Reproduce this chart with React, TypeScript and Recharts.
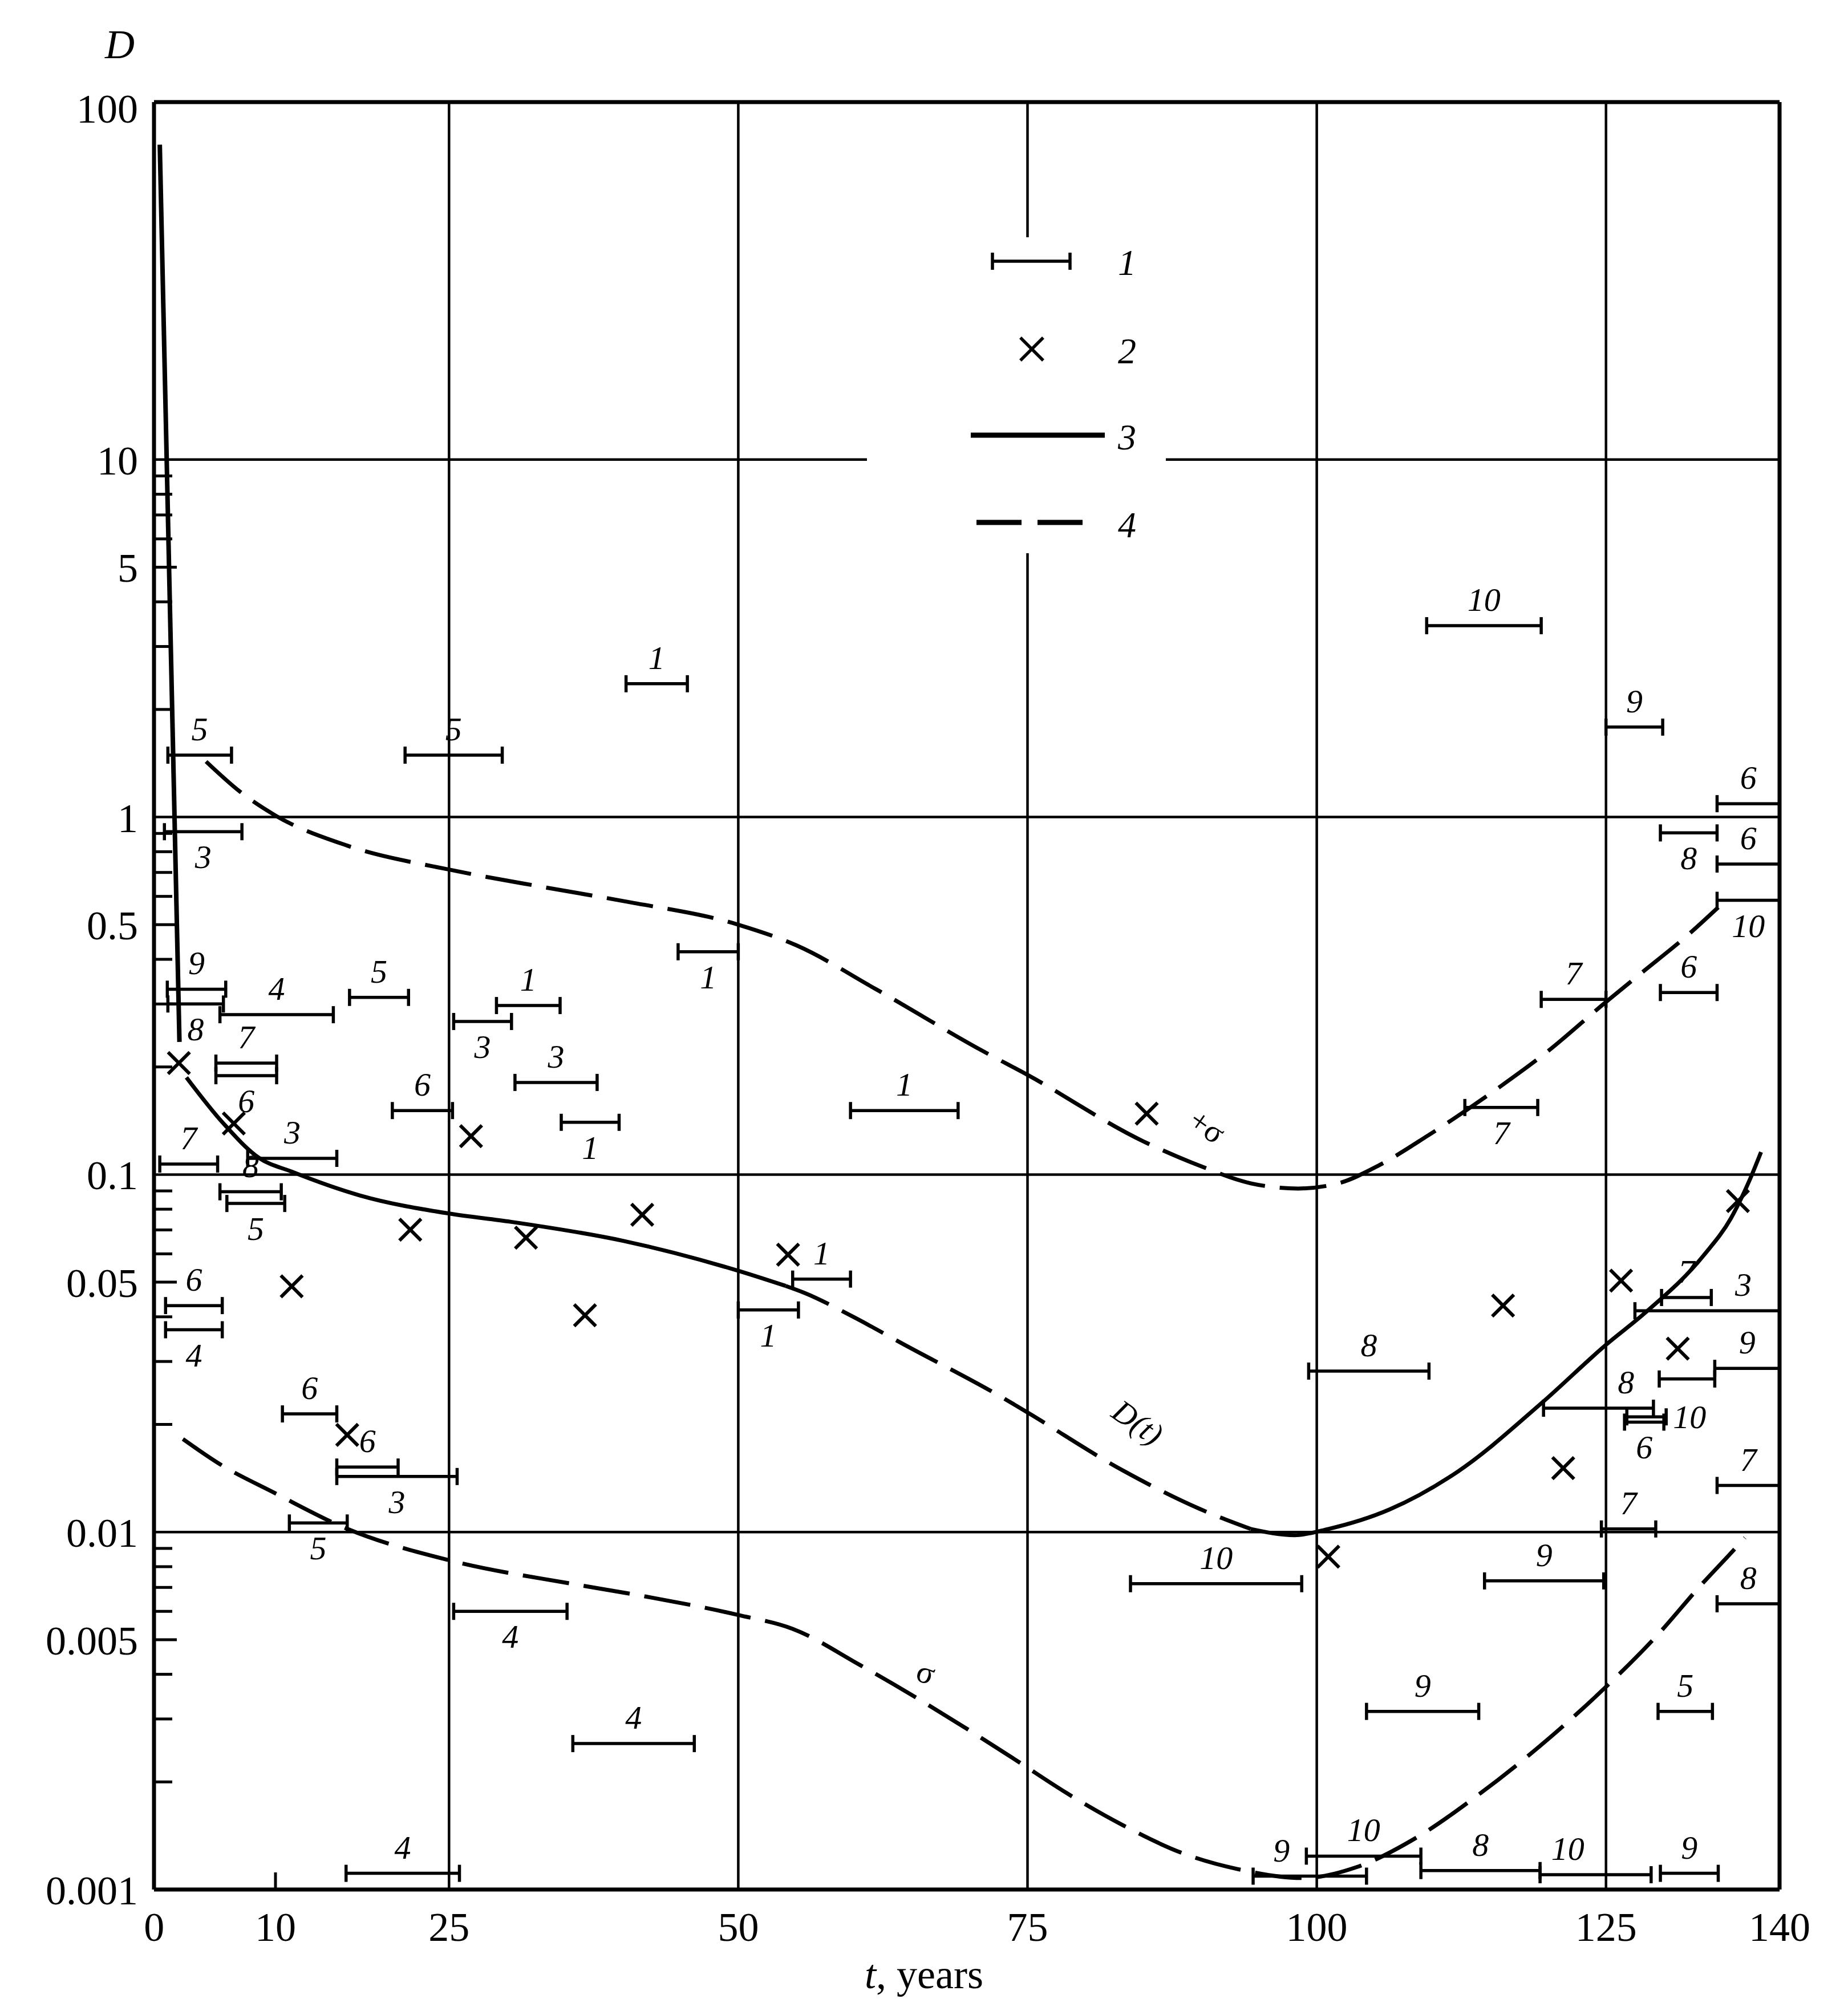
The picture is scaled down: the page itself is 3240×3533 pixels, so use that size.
import React from "react";
import { ComposedChart, Line, Scatter, ErrorBar, XAxis, YAxis, ReferenceLine } from "recharts";

const W = 3240;
const H = 3533;
const FONT = '"Liberation Serif", "DejaVu Serif", serif';

// t axis, years
const xTicks = [0, 10, 25, 50, 75, 100, 125, 140];
const xGrid = [25, 50, 75, 100, 125];

// D axis, log
const yTicks = [
  0.001, 0.002, 0.003, 0.004, 0.005, 0.006, 0.007, 0.008, 0.009,
  0.01, 0.02, 0.03, 0.04, 0.05, 0.06, 0.07, 0.08, 0.09,
  0.1, 0.2, 0.3, 0.4, 0.5, 0.6, 0.7, 0.8, 0.9,
  1, 2, 3, 4, 5, 6, 7, 8, 9,
  10, 100,
];
const yLabels = [100, 10, 5, 1, 0.5, 0.1, 0.05, 0.01, 0.005, 0.001];
const yGrid = [10, 1, 0.1, 0.01];

// 1: intervals [t from, t to, D, label, label side]
type Iv = [number, number, number, string, string];
const intervals: Iv[] = [
  [0.7, 6.2, 1.49, "5", "a"],
  [21.2, 29.6, 1.49, "5", "a"],
  [40.3, 45.6, 2.36, "1", "a"],
  [0.4, 7.1, 0.91, "3", "b"],
  [0.65, 5.7, 0.33, "9", "a"],
  [0.7, 5.5, 0.3, "8", "b"],
  [5.2, 15.0, 0.28, "4", "a"],
  [16.4, 21.5, 0.313, "5", "a"],
  [29.1, 34.6, 0.297, "1", "a"],
  [25.4, 30.4, 0.268, "3", "b"],
  [30.7, 37.8, 0.181, "3", "a"],
  [4.85, 10.1, 0.205, "7", "a"],
  [4.85, 10.1, 0.189, "6", "b"],
  [20.1, 25.3, 0.151, "6", "a"],
  [34.7, 39.7, 0.14, "1", "b"],
  [0, 5.0, 0.107, "7", "a"],
  [7.6, 15.3, 0.111, "3", "a"],
  [5.2, 10.5, 0.0895, "8", "a"],
  [5.8, 10.8, 0.083, "5", "b"],
  [0.5, 5.4, 0.043, "6", "a"],
  [0.5, 5.4, 0.0368, "4", "b"],
  [10.6, 15.3, 0.0214, "6", "a"],
  [15.3, 20.6, 0.0152, "6", "a"],
  [15.3, 25.7, 0.0143, "3", "b"],
  [11.2, 16.2, 0.0106, "5", "b"],
  [25.4, 35.2, 0.006, "4", "b"],
  [35.7, 46.2, 0.00256, "4", "a"],
  [16.1, 25.9, 0.00111, "4", "a"],
  [44.8, 50.0, 0.42, "1", "b"],
  [59.7, 69.0, 0.151, "1", "a"],
  [54.7, 59.7, 0.051, "1", "a"],
  [50.0, 55.2, 0.0418, "1", "b"],
  [83.9, 98.7, 0.00717, "10", "a"],
  [109.5, 119.4, 3.43, "10", "a"],
  [125.0, 129.9, 1.785, "9", "a"],
  [134.6, 140, 1.09, "6", "a"],
  [129.7, 134.6, 0.903, "8", "b"],
  [134.6, 140, 0.739, "6", "a"],
  [134.6, 140, 0.585, "10", "b"],
  [119.4, 125.0, 0.309, "7", "a"],
  [129.7, 134.6, 0.323, "6", "a"],
  [112.8, 119.1, 0.154, "7", "b"],
  [129.8, 134.1, 0.0453, "7", "a"],
  [127.5, 140, 0.0416, "3", "ar"],
  [134.4, 140, 0.0287, "9", "a"],
  [129.6, 134.4, 0.0268, "", ""],
  [99.3, 109.7, 0.0282, "8", "a"],
  [119.6, 129.1, 0.0222, "8", "ar"],
  [126.6, 130.0, 0.0203, "6", "b"],
  [126.8, 130.2, 0.021, "10", "r"],
  [134.6, 140, 0.0135, "7", "a"],
  [124.6, 129.3, 0.0102, "7", "a"],
  [114.5, 124.8, 0.0073, "9", "a"],
  [134.6, 140, 0.0063, "8", "a"],
  [104.3, 114.0, 0.00315, "9", "a"],
  [129.5, 134.2, 0.00315, "5", "a"],
  [94.5, 104.3, 0.00109, "9", "al"],
  [99.1, 109.0, 0.00124, "10", "a"],
  [109.0, 119.3, 0.00113, "8", "a"],
  [119.3, 128.9, 0.0011, "10", "al"],
  [129.7, 134.7, 0.00111, "9", "a"],
];

// 2: point estimates [t, D]
const crosses: [number, number][] = [
  [1.65, 0.205], [6.4, 0.139], [26.9, 0.128], [21.65, 0.0701], [31.65, 0.0666],
  [11.4, 0.0487], [36.75, 0.0404], [16.2, 0.0187],
  [85.3, 0.148], [41.7, 0.0772], [54.3, 0.0597],
  [136.4, 0.0843], [126.3, 0.0505], [116.1, 0.043], [131.2, 0.0326], [121.3, 0.0151], [101.0, 0.00853],
];

// 3/4: D(t), solid where fitted, dashed between
const dSpike: [number, number][] = [[0, 76], [1.7, 0.235]];
const dEarly: [number, number][] = [
  [2.3, 0.187], [5.5, 0.139], [8.6, 0.1112], [11.4, 0.1019], [17.3, 0.0874],
  [25, 0.0778], [30.3, 0.0738], [40.1, 0.0652], [50, 0.0538], [54.1, 0.0488],
];
const dMiddle: [number, number][] = [
  [54.1, 0.0488], [55.7, 0.0467], [59.8, 0.0402], [64.3, 0.0335], [73.3, 0.0233],
  [75, 0.0216], [83.3, 0.01483], [89.9, 0.0116], [94.3, 0.0102],
];
const dLate: [number, number][] = [
  [94.3, 0.0102], [98.1, 0.0098], [101, 0.0102], [106.3, 0.01157], [112.2, 0.01477],
  [119.4, 0.0229], [125, 0.0334], [128.4, 0.0411], [133.4, 0.0592], [135.8, 0.0755],
  [137.4, 0.0963], [138.4, 0.1156],
];
const plusSigma: [number, number][] = [
  [4.0, 1.43], [6.9, 1.18], [10.0, 1.01], [16.2, 0.832], [25, 0.713], [33.4, 0.635],
  [40.2, 0.581], [50, 0.5], [55, 0.438], [61.9, 0.33], [71.2, 0.221], [75, 0.19],
  [85, 0.1239], [89.8, 0.1061], [94.3, 0.0945], [98.4, 0.0914], [102, 0.0948],
  [105.3, 0.1058], [109.6, 0.1285], [115.8, 0.1757], [119.8, 0.219], [125, 0.304],
  [128, 0.365], [132.2, 0.4716], [134.7, 0.559],
];
const sigma: [number, number][] = [
  [2.0, 0.0182], [5.2, 0.01548], [9.85, 0.0129], [16.2, 0.01021], [25, 0.00834],
  [36, 0.00713], [42, 0.0066], [50, 0.00586], [54.7, 0.00536], [60.5, 0.00425],
  [65, 0.0035], [69.5, 0.00285], [74.1, 0.00229], [78.4, 0.00186], [83.3, 0.00151],
  [88.5, 0.00126], [93.2, 0.00114], [98.8, 0.001077], [103.4, 0.001154],
  [108.5, 0.00139], [114, 0.001844], [121.1, 0.00283], [125, 0.00369],
  [129.3, 0.00509], [133.2, 0.0071], [136, 0.00888], [137, 0.00964],
];

// curve names [text, t, D, angle, italic]
const captions: [string, number, number, number, boolean][] = [
  ["+σ", 90.5, 0.136, 35, false],
  ["D(t)", 84.5, 0.0202, 35, true],
  ["σ", 66.2, 0.00404, 20, false],
];

const pts = (a: [number, number][]) => a.map(([t, d]) => ({ t, d }));

const barData = intervals.map(([t1, t2, d]) => ({ t: (t1 + t2) / 2, d, e: (t2 - t1) / 2 }));
const labelData = intervals
  .filter((r) => r[3] !== "")
  .map(([t1, t2, d, label, side]) => {
    let t = (t1 + t2) / 2;
    if (side === "al") t = t1 + (t2 - t1) * 0.25;
    if (side === "ar") t = t1 + (t2 - t1) * 0.75;
    if (side === "r") t = t2;
    return { t, d, label, side };
  });
const crossData = pts(crosses);
const captionData = captions.map(([text, t, d, rot, it]) => ({ t, d, text, rot, it }));

function YTick(props: any) {
  const { x, y, payload } = props;
  const v = payload.value;
  const lab = yLabels.find((l) => Math.abs(v - l) / l < 1e-6);
  const lg = Math.log10(v);
  const decade = Math.abs(lg - Math.round(lg)) < 1e-6;
  const len = decade ? 0 : lab !== undefined ? 40 : 32;
  return (
    <g>
      {len > 0 && <line x1={x} x2={x + len} y1={y} y2={y} stroke="#000" strokeWidth={5} />}
      {lab !== undefined && (
        <text x={x - 28} y={y + (v === 100 ? 36 : 26)} textAnchor="end" fontFamily={FONT} fontSize={72} fill="#000">
          {String(lab)}
        </text>
      )}
    </g>
  );
}

function XTick(props: any) {
  const { x, y, payload } = props;
  const v = payload.value;
  return (
    <g>
      {v === 10 && <line x1={x} x2={x} y1={y} y2={y - 30} stroke="#000" strokeWidth={5} />}
      <text x={v === 0 ? x - 10 : x} y={y + 90} textAnchor="middle" fontFamily={FONT} fontSize={72} fill="#000">
        {v}
      </text>
    </g>
  );
}

function Cross(props: any) {
  const { cx, cy } = props;
  const r = 19;
  return (
    <g stroke="#000" strokeWidth={6}>
      <line x1={cx - r} y1={cy - r} x2={cx + r} y2={cy + r} />
      <line x1={cx - r} y1={cy + r} x2={cx + r} y2={cy - r} />
    </g>
  );
}

function BarLabel(props: any) {
  const { cx, cy, payload } = props;
  const s: string = payload.side;
  let dx = 0;
  let dy = -26;
  let anchor = "middle";
  if (s[0] === "b") dy = 64;
  if (s === "r") {
    dx = 12;
    dy = 20;
    anchor = "start";
  }
  return (
    <text x={cx + dx} y={cy + dy} textAnchor={anchor} fontFamily={FONT} fontStyle="italic" fontSize={58} fill="#000">
      {payload.label}
    </text>
  );
}

function Caption(props: any) {
  const { cx, cy, payload } = props;
  return (
    <text
      x={cx}
      y={cy + 18}
      textAnchor="middle"
      fontFamily={FONT}
      fontStyle={payload.it ? "italic" : "normal"}
      fontSize={56}
      fill="#000"
      transform={`rotate(${payload.rot} ${cx} ${cy})`}
    >
      {payload.text}
    </text>
  );
}

const none = () => <g />;
const dash = "82 26";

export default function App() {
  return (
    <div style={{ position: "absolute", left: 0, top: 0, width: W, height: H, background: "#fff" }}>
      <ComposedChart width={W} height={H} margin={{ top: 179, right: 120, bottom: 100, left: 70 }}>
        <XAxis
          type="number"
          dataKey="t"
          domain={[-0.5, 140]}
          allowDataOverflow
          ticks={xTicks}
          interval={0}
          tickSize={0}
          tickMargin={0}
          tickLine={false}
          axisLine={{ stroke: "#000", strokeWidth: 7 }}
          tick={<XTick />}
          height={120}
        />
        <YAxis
          type="number"
          dataKey="d"
          scale="log"
          domain={[0.001, 100]}
          allowDataOverflow
          ticks={yTicks}
          interval={0}
          tickSize={0}
          tickMargin={0}
          tickLine={false}
          axisLine={{ stroke: "#000", strokeWidth: 7 }}
          tick={<YTick />}
          width={200}
        />
        {xGrid.map((v) => (
          <ReferenceLine key={"gx" + v} x={v} stroke="#000" strokeWidth={4.5} ifOverflow="visible" />
        ))}
        {yGrid.map((v) => (
          <ReferenceLine key={"gy" + v} y={v} stroke="#000" strokeWidth={4.5} ifOverflow="visible" />
        ))}
        <ReferenceLine y={100} stroke="#000" strokeWidth={7} ifOverflow="visible" />
        <ReferenceLine x={140} stroke="#000" strokeWidth={7} ifOverflow="visible" />

        <Line data={pts(dSpike)} dataKey="d" type="linear" stroke="#000" strokeWidth={8} dot={false} activeDot={false} isAnimationActive={false} />
        <Line data={pts(dEarly)} dataKey="d" type="monotone" stroke="#000" strokeWidth={7} dot={false} activeDot={false} isAnimationActive={false} />
        <Line data={pts(dMiddle)} dataKey="d" type="monotone" stroke="#000" strokeWidth={7} strokeDasharray={dash} dot={false} activeDot={false} isAnimationActive={false} />
        <Line data={pts(dLate)} dataKey="d" type="monotone" stroke="#000" strokeWidth={7} dot={false} activeDot={false} isAnimationActive={false} />
        <Line data={pts(plusSigma)} dataKey="d" type="monotone" stroke="#000" strokeWidth={7} strokeDasharray={dash} dot={false} activeDot={false} isAnimationActive={false} />
        <Line data={pts(sigma)} dataKey="d" type="monotone" stroke="#000" strokeWidth={7} strokeDasharray={dash} dot={false} activeDot={false} isAnimationActive={false} />

        <Scatter data={barData} shape={none} isAnimationActive={false}>
          <ErrorBar dataKey="e" direction="x" width={15} stroke="#000" strokeWidth={5.5} isAnimationActive={false} />
        </Scatter>
        <Scatter data={labelData} shape={(p: any) => <BarLabel {...p} />} isAnimationActive={false} />
        <Scatter data={crossData} shape={(p: any) => <Cross {...p} />} isAnimationActive={false} />
        <Scatter data={captionData} shape={(p: any) => <Caption {...p} />} isAnimationActive={false} />
      </ComposedChart>

      <svg width={W} height={H} style={{ position: "absolute", left: 0, top: 0, pointerEvents: "none" }} fontFamily={FONT}>
        <text x={210} y={102} textAnchor="middle" fontStyle="italic" fontSize={72}>D</text>
        <text x={1620} y={3486} textAnchor="middle" fontSize={72}>
          <tspan fontStyle="italic">t</tspan>, years
        </text>
        <rect x={1520} y={416} width={524} height={554} fill="#fff" />
        <g stroke="#000" strokeWidth={5.5}>
          <line x1={1740} x2={1876} y1={458} y2={458} />
          <line x1={1740} x2={1740} y1={443} y2={473} />
          <line x1={1876} x2={1876} y1={443} y2={473} />
          <line x1={1789} y1={592} x2={1829} y2={632} />
          <line x1={1789} y1={632} x2={1829} y2={592} />
        </g>
        <line x1={1702} x2={1937} y1={763} y2={763} stroke="#000" strokeWidth={9} />
        <line x1={1712} x2={1901} y1={916} y2={916} stroke="#000" strokeWidth={9} strokeDasharray="79 28" />
        <g fontStyle="italic" fontSize={64}>
          <text x={1960} y={482}>1</text>
          <text x={1960} y={637}>2</text>
          <text x={1960} y={788}>3</text>
          <text x={1960} y={942}>4</text>
        </g>
      </svg>
    </div>
  );
}
